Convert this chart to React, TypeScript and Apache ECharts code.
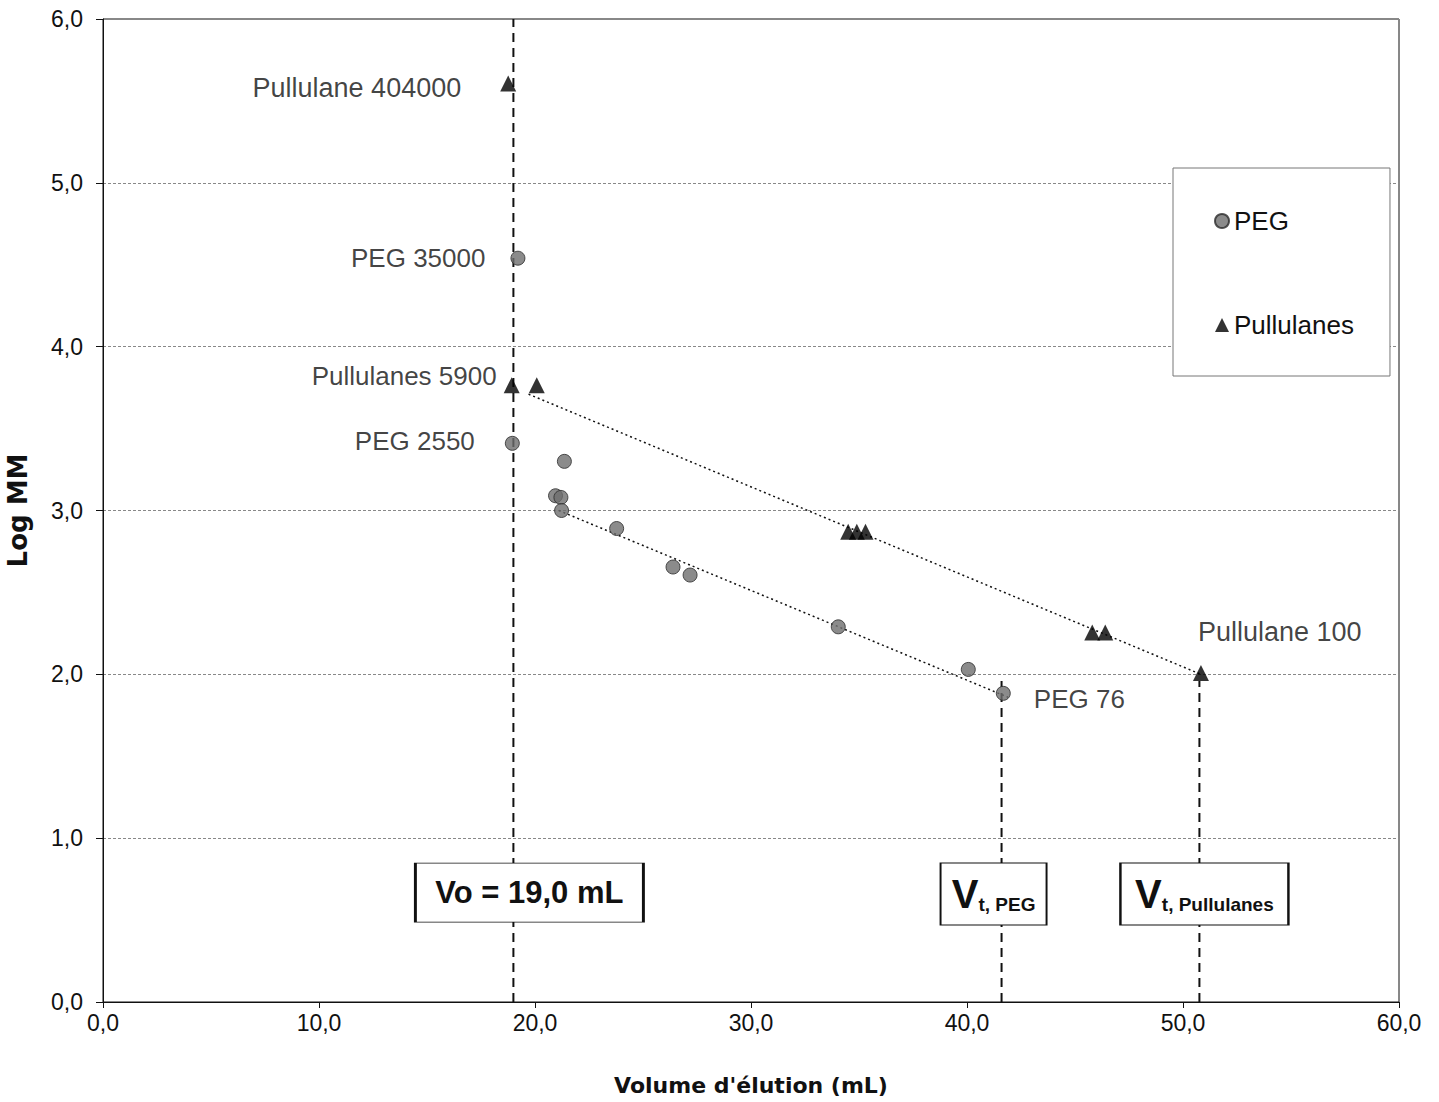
import React, { useEffect, useRef } from "react";
import * as echarts from "echarts";

// ---- data ----
const pegX = [19.21, 18.95, 21.36, 20.95, 21.2, 21.23, 23.78, 26.39, 27.18, 34.04, 40.06, 41.68];
const pegY = [4.54, 3.41, 3.3, 3.09, 3.08, 3.0, 2.89, 2.655, 2.606, 2.29, 2.03, 1.884];
const pullX = [18.76, 18.92, 20.08, 34.5, 34.9, 35.3, 45.8, 46.4, 50.83];
const pullY = [5.607, 3.765, 3.765, 2.87, 2.87, 2.87, 2.255, 2.255, 2.008];

const pegLabels: Record<number, string> = { 0: "PEG 35000", 1: "PEG 2550", 11: "PEG 76" };
const pullLabels: Record<number, string> = { 0: "Pullulane 404000", 1: "Pullulanes 5900", 8: "Pullulane 100" };

// regression lines (endpoints)
const pegFitX = [21.1, 41.9];
const pegFitY = [3.0, 1.86];
const pullFitX = [19.7, 50.83];
const pullFitY = [3.71, 2.0];

// reference volumes
const vo = 19.0;
const vtPeg = 41.6;
const vtPull = 50.76;
const vtTop = 1.96;

const xTicks = { min: 0, max: 60, interval: 10 };
const yTicks = { min: 0, max: 6, interval: 1 };

const SANS = "'Liberation Sans', Arial, sans-serif";
const fmt = (v: number) => v.toFixed(1).replace(".", ",");

const labelPos: Record<string, { pos: number[]; align: string; size: number }> = {
  "PEG 35000": { pos: [-25, 7], align: "right", size: 26 },
  "PEG 2550": { pos: [-30, 5], align: "right", size: 26 },
  "PEG 76": { pos: [38, 13], align: "left", size: 26 },
  "Pullulane 404000": { pos: [-39, 13], align: "right", size: 27 },
  "Pullulanes 5900": { pos: [-7, -1], align: "right", size: 26 },
  "Pullulane 100": { pos: [5, -33], align: "left", size: 27 },
};

function mkPoints(xs: number[], ys: number[], labels: Record<number, string>) {
  return xs.map((x, i) => {
    const txt = labels[i];
    if (!txt) return [x, ys[i]];
    const lp = labelPos[txt];
    return {
      value: [x, ys[i]],
      label: {
        show: true,
        formatter: txt,
        position: lp.pos,
        align: lp.align,
        verticalAlign: "middle",
        fontSize: lp.size,
        fontFamily: SANS,
        color: "#111",
      },
    };
  });
}

export default function App() {
  const ref = useRef<HTMLDivElement>(null);
  useEffect(() => {
    if (!ref.current) return;
    const chart = echarts.init(ref.current, undefined, { renderer: "svg" });
    const dashed = { color: "#111", width: 2, type: [9, 6] as any };
    const boxStyle = { color: "#fff", borderColor: "#111", borderWidth: 1.5 };
    const vRich = {
      v: { fontFamily: SANS, fontWeight: "bold", fontSize: 40, lineHeight: 40, verticalAlign: "bottom", color: "#111" },
      s: { fontFamily: SANS, fontWeight: "bold", fontSize: 19, lineHeight: 19, verticalAlign: "bottom", color: "#111" },
    };
    chart.setOption({
      animation: false,
      backgroundColor: "#fff",
      textStyle: { fontFamily: SANS },
      grid: {
        left: 103,
        right: 40,
        top: 19,
        bottom: 100,
        show: true,
        borderColor: "#111",
        borderWidth: 1,
        backgroundColor: "transparent",
        containLabel: false,
        outerBoundsMode: "none",
      },
      legend: {
        orient: "vertical",
        left: 1173,
        top: 168,
        data: ["PEG", "Pullulanes"],
        itemWidth: 14,
        itemHeight: 14,
        itemGap: 78,
        padding: [40, 36, 38, 41],
        borderColor: "#777",
        borderWidth: 1,
        backgroundColor: "#fff",
        textStyle: { fontSize: 26, fontFamily: SANS, color: "#111" },
      },
      xAxis: {
        type: "value",
        ...xTicks,
        name: "Volume d'élution (mL)",
        nameLocation: "middle",
        nameGap: 72,
        nameTextStyle: { fontFamily: "'DejaVu Sans', sans-serif", fontWeight: "bold", fontSize: 22, color: "#111" },
        axisLine: { lineStyle: { color: "#111", width: 1 } },
        axisTick: { show: true, inside: false, length: 6, lineStyle: { color: "#111" } },
        axisLabel: { formatter: fmt, fontSize: 23, color: "#111", margin: 9 },
        splitLine: { show: false },
      },
      yAxis: {
        type: "value",
        ...yTicks,
        name: "Log MM",
        nameLocation: "middle",
        nameGap: 72,
        nameTextStyle: { fontFamily: "'DejaVu Sans', sans-serif", fontWeight: "bold", fontSize: 26, color: "#111" },
        axisLine: { show: true, lineStyle: { color: "#111", width: 1 } },
        axisTick: { show: true, inside: false, length: 7, lineStyle: { color: "#111" } },
        axisLabel: { formatter: fmt, fontSize: 23, color: "#111", margin: 20 },
        splitLine: { show: true, lineStyle: { color: "#888", type: [3, 2], width: 1 } },
      },
      series: [
        {
          name: "Vo",
          type: "line",
          z: 1,
          data: [[vo, yTicks.min], [vo, yTicks.max]],
          showSymbol: false,
          symbol: "none",
          lineStyle: dashed,
          silent: true,
          markPoint: {
            z: 5,
            data: [
              {
                coord: [vo, 0.668],
                symbol: "rect",
                symbolSize: [228, 59],
                symbolOffset: [16, 0],
                itemStyle: boxStyle,
                label: {
                  show: true,
                  position: "inside",
                  formatter: "Vo = 19,0 mL",
                  fontFamily: SANS,
                  fontWeight: "bold",
                  fontSize: 31,
                  color: "#111",
                },
              },
            ],
          },
        },
        {
          name: "VtPEG",
          type: "line",
          z: 1,
          data: [[vtPeg, yTicks.min], [vtPeg, vtTop]],
          showSymbol: false,
          symbol: "none",
          lineStyle: dashed,
          silent: true,
          markPoint: {
            z: 5,
            data: [
              {
                coord: [vtPeg, 0.659],
                symbol: "rect",
                symbolSize: [106, 62],
                symbolOffset: [-8, 0],
                itemStyle: boxStyle,
                label: { show: true, position: "inside", formatter: "{v|V}{s|t, PEG}", rich: vRich },
              },
            ],
          },
        },
        {
          name: "VtPull",
          type: "line",
          z: 1,
          data: [[vtPull, yTicks.min], [vtPull, vtTop]],
          showSymbol: false,
          symbol: "none",
          lineStyle: dashed,
          silent: true,
          markPoint: {
            z: 5,
            data: [
              {
                coord: [vtPull, 0.659],
                symbol: "rect",
                symbolSize: [168, 62],
                symbolOffset: [5, 0],
                itemStyle: boxStyle,
                label: { show: true, position: "inside", formatter: "{v|V}{s|t, Pullulanes}", rich: vRich },
              },
            ],
          },
        },
        {
          name: "PEG fit",
          type: "line",
          z: 2,
          data: pegFitX.map((x, i) => [x, pegFitY[i]]),
          showSymbol: false,
          symbol: "none",
          lineStyle: { color: "#111", width: 1.5, type: [2, 3] as any },
          silent: true,
        },
        {
          name: "Pullulanes fit",
          type: "line",
          z: 2,
          data: pullFitX.map((x, i) => [x, pullFitY[i]]),
          showSymbol: false,
          symbol: "none",
          lineStyle: { color: "#111", width: 1.5, type: [2, 3] as any },
          silent: true,
        },
        {
          name: "PEG",
          type: "scatter",
          z: 4,
          symbol: "circle",
          symbolSize: 14,
          itemStyle: { color: "#6e6e6e", borderColor: "#2a2a2a", borderWidth: 1 },
          data: mkPoints(pegX, pegY, pegLabels),
        },
        {
          name: "Pullulanes",
          type: "scatter",
          z: 4,
          symbol: "triangle",
          symbolSize: 16,
          itemStyle: { color: "#000" },
          data: mkPoints(pullX, pullY, pullLabels),
        },
      ],
    });
    return () => chart.dispose();
  }, []);
  return (
    <div
      ref={ref}
      style={{ position: "absolute", left: 0, top: 0, width: 1439, height: 1102, background: "#fff" }}
    />
  );
}
